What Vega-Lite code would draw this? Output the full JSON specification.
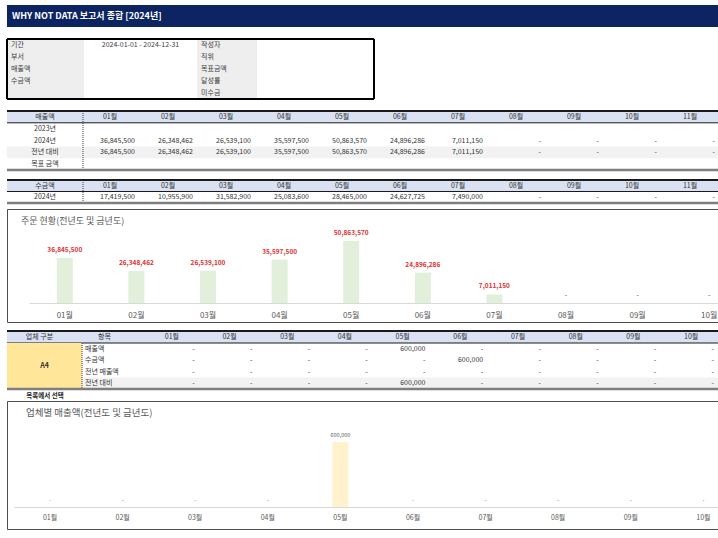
{
  "$schema": "https://vega.github.io/schema/vega-lite/v6.json",
  "background": "white",
  "padding": {"left": 5, "top": 5, "right": 0, "bottom": 0},
  "bounds": "flush",
  "spacing": 0,
  "config": {"font": "Noto Sans CJK KR", "view": {"stroke": null}, "text": {"fontSize": 7, "color": "#333333"}},
  "vconcat": [
    {
      "width": 713, "height": 22,
      "view": {"fill": "#0c2461", "stroke": null},
      "data": {"values": [{"t": "WHY NOT DATA 보고서 종합 [2024년]"}]},
      "mark": {"type": "text", "align": "left", "dx": 5, "color": "white", "fontSize": 9, "fontWeight": "bold"},
      "encoding": {
        "text": {"field": "t"},
        "x": {"datum": "c", "type": "nominal", "bandPosition": 0, "scale": {"type": "band", "domain": ["c"], "paddingInner": 0, "paddingOuter": 0}, "axis": null},
        "y": {"datum": "c", "type": "nominal", "scale": {"type": "band", "domain": ["c"], "paddingInner": 0, "paddingOuter": 0}, "axis": null}
      }
    },
    {"width": 10, "height": 12, "data": {"values": [{}]}, "mark": "text", "encoding": {"text": {"value": ""}}},
    {
      "width": 367, "height": 60,
      "resolve": {"scale": {"x": "independent"}},
      "layer": [
        {"data": {"values": [{"c": "L"}]}, "mark": {"type": "rect", "color": "#eeeeee"},
         "encoding": {"x": {"field": "c", "type": "nominal", "scale": {"type": "band", "domain": ["L"], "range": [0, 77], "paddingInner": 0, "paddingOuter": 0}, "axis": null}}},
        {"data": {"values": [{"c": "R"}]}, "mark": {"type": "rect", "color": "#eeeeee"},
         "encoding": {"x": {"field": "c", "type": "nominal", "scale": {"type": "band", "domain": ["R"], "range": [190, 250], "paddingInner": 0, "paddingOuter": 0}, "axis": null}}},
        {"data": {"values": [{"r": 1, "t": "기간"}, {"r": 2, "t": "부서"}, {"r": 3, "t": "매출액"}, {"r": 4, "t": "수금액"}]},
         "mark": {"type": "text", "align": "left", "dx": 4, "fontSize": 7, "color": "#404040"},
         "encoding": {
           "text": {"field": "t"},
           "x": {"datum": "L", "type": "nominal", "bandPosition": 0, "scale": {"type": "band", "domain": ["L"], "range": [0, 77], "paddingInner": 0, "paddingOuter": 0}, "axis": null},
           "y": {"field": "r", "type": "ordinal", "scale": {"type": "band", "domain": [1, 2, 3, 4, 5], "paddingInner": 0, "paddingOuter": 0}, "axis": null}}},
        {"data": {"values": [{"r": 1, "t": "작성자"}, {"r": 2, "t": "직위"}, {"r": 3, "t": "목표금액"}, {"r": 4, "t": "달성률"}, {"r": 5, "t": "미수금"}]},
         "mark": {"type": "text", "align": "left", "dx": 4, "fontSize": 7, "color": "#404040"},
         "encoding": {
           "text": {"field": "t"},
           "x": {"datum": "R", "type": "nominal", "bandPosition": 0, "scale": {"type": "band", "domain": ["R"], "range": [190, 250], "paddingInner": 0, "paddingOuter": 0}, "axis": null},
           "y": {"field": "r", "type": "ordinal", "scale": {"type": "band", "domain": [1, 2, 3, 4, 5], "paddingInner": 0, "paddingOuter": 0}, "axis": null}}},
        {"data": {"values": [{"r": 1, "t": "2024-01-01 - 2024-12-31"}]},
         "mark": {"type": "text", "fontSize": 7, "color": "#404040"},
         "encoding": {
           "text": {"field": "t"},
           "x": {"datum": "V", "type": "nominal", "scale": {"type": "band", "domain": ["V"], "range": [77, 190], "paddingInner": 0, "paddingOuter": 0}, "axis": null},
           "y": {"field": "r", "type": "ordinal", "scale": {"type": "band", "domain": [1, 2, 3, 4, 5], "paddingInner": 0, "paddingOuter": 0}, "axis": null}}},
        {"data": {"values": [{"r": 1}]}, "mark": {"type": "rule", "color": "#000000", "strokeWidth": 2},
         "encoding": {"y": {"field": "r", "type": "ordinal", "bandPosition": 0, "scale": {"type": "band", "domain": [1, 2, 3, 4, 5], "paddingInner": 0, "paddingOuter": 0}, "axis": null}}},
        {"data": {"values": [{"r": 5}]}, "mark": {"type": "rule", "color": "#000000", "strokeWidth": 2},
         "encoding": {"y": {"field": "r", "type": "ordinal", "bandPosition": 1, "scale": {"type": "band", "domain": [1, 2, 3, 4, 5], "paddingInner": 0, "paddingOuter": 0}, "axis": null}}},
        {"data": {"values": [{"c": "L"}]}, "mark": {"type": "rule", "color": "#000000", "strokeWidth": 2},
         "encoding": {"x": {"field": "c", "type": "nominal", "bandPosition": 0, "scale": {"type": "band", "domain": ["L"], "range": [0, 77], "paddingInner": 0, "paddingOuter": 0}, "axis": null}}},
        {"data": {"values": [{"c": "W"}]}, "mark": {"type": "rule", "color": "#000000", "strokeWidth": 2},
         "encoding": {"x": {"field": "c", "type": "nominal", "bandPosition": 1, "scale": {"type": "band", "domain": ["W"], "range": [250, 367], "paddingInner": 0, "paddingOuter": 0}, "axis": null}}}
      ]
    },
    {"width": 10, "height": 12, "data": {"values": [{}]}, "mark": "text", "encoding": {"text": {"value": ""}}},
    {
      "width": 713, "height": 59,
      "resolve": {"scale": {"x": "independent"}},
      "layer": [
        {"data": {"values": [{"r": "h"}, {"r": "c"}]}, "mark": {"type": "rect"},
         "encoding": {
           "y": {"field": "r", "type": "nominal", "scale": {"type": "band", "domain": ["h", "a", "b", "c", "d"], "paddingInner": 0, "paddingOuter": 0}, "axis": null},
           "color": {"condition": {"test": "datum.r === 'h'", "value": "#d9e1f2"}, "value": "#f2f2f2"}}},
        {"data": {"values": [{"m": "01월"}]}, "mark": {"type": "rule", "color": "#404040", "strokeWidth": 1, "strokeDash": [1, 1]},
         "encoding": {"x": {"field": "m", "type": "nominal", "bandPosition": 0, "scale": {"type": "band", "domain": ["01월", "02월", "03월", "04월", "05월", "06월", "07월", "08월", "09월", "10월", "11월"], "range": [76, 714], "paddingInner": 0, "paddingOuter": 0}, "axis": null}}},
        {"data": {"values": [{"r": "h", "t": "매출액"}, {"r": "a", "t": "2023년"}, {"r": "b", "t": "2024년"}, {"r": "c", "t": "전년 대비"}, {"r": "d", "t": "목표 금액"}]},
         "mark": {"type": "text", "fontSize": 7},
         "encoding": {
           "text": {"field": "t"},
           "x": {"datum": "L", "type": "nominal", "scale": {"type": "band", "domain": ["L"], "range": [0, 76], "paddingInner": 0, "paddingOuter": 0}, "axis": null},
           "y": {"field": "r", "type": "nominal", "scale": {"type": "band", "domain": ["h", "a", "b", "c", "d"], "paddingInner": 0, "paddingOuter": 0}, "axis": null}}},
        {"data": {"values": [{"m": "01월"}, {"m": "02월"}, {"m": "03월"}, {"m": "04월"}, {"m": "05월"}, {"m": "06월"}, {"m": "07월"}, {"m": "08월"}, {"m": "09월"}, {"m": "10월"}, {"m": "11월"}]},
         "mark": {"type": "text", "fontSize": 7, "dx": -2},
         "encoding": {
           "text": {"field": "m"},
           "x": {"field": "m", "type": "nominal", "scale": {"type": "band", "domain": ["01월", "02월", "03월", "04월", "05월", "06월", "07월", "08월", "09월", "10월", "11월"], "range": [76, 714], "paddingInner": 0, "paddingOuter": 0}, "axis": null},
           "y": {"datum": "h", "type": "nominal", "scale": {"type": "band", "domain": ["h", "a", "b", "c", "d"], "paddingInner": 0, "paddingOuter": 0}, "axis": null}}},
        {"data": {"values": [
          {"r": "b", "m": "01월", "v": 36845500}, {"r": "b", "m": "02월", "v": 26348462}, {"r": "b", "m": "03월", "v": 26539100}, {"r": "b", "m": "04월", "v": 35597500}, {"r": "b", "m": "05월", "v": 50863570}, {"r": "b", "m": "06월", "v": 24896286}, {"r": "b", "m": "07월", "v": 7011150}, {"r": "b", "m": "08월", "v": 0}, {"r": "b", "m": "09월", "v": 0}, {"r": "b", "m": "10월", "v": 0}, {"r": "b", "m": "11월", "v": 0},
          {"r": "c", "m": "01월", "v": 36845500}, {"r": "c", "m": "02월", "v": 26348462}, {"r": "c", "m": "03월", "v": 26539100}, {"r": "c", "m": "04월", "v": 35597500}, {"r": "c", "m": "05월", "v": 50863570}, {"r": "c", "m": "06월", "v": 24896286}, {"r": "c", "m": "07월", "v": 7011150}, {"r": "c", "m": "08월", "v": 0}, {"r": "c", "m": "09월", "v": 0}, {"r": "c", "m": "10월", "v": 0}, {"r": "c", "m": "11월", "v": 0}]},
         "mark": {"type": "text", "fontSize": 7, "align": "right", "dx": -6},
         "encoding": {
           "text": {"field": "v", "type": "quantitative", "format": ",", "condition": {"test": "datum.v === 0", "value": "-"}},
           "x": {"field": "m", "type": "nominal", "bandPosition": 1, "scale": {"type": "band", "domain": ["01월", "02월", "03월", "04월", "05월", "06월", "07월", "08월", "09월", "10월", "11월"], "range": [76, 714], "paddingInner": 0, "paddingOuter": 0}, "axis": null},
           "y": {"field": "r", "type": "nominal", "scale": {"type": "band", "domain": ["h", "a", "b", "c", "d"], "paddingInner": 0, "paddingOuter": 0}, "axis": null}}},
        {"data": {"values": [{"r": "h"}]}, "mark": {"type": "rule", "color": "#1a1a1a", "strokeWidth": 2},
         "encoding": {"y": {"field": "r", "type": "nominal", "bandPosition": 0, "scale": {"type": "band", "domain": ["h", "a", "b", "c", "d"], "paddingInner": 0, "paddingOuter": 0}, "axis": null}}},
        {"data": {"values": [{"r": "a"}]}, "mark": {"type": "rule", "color": "#1a1a1a", "strokeWidth": 1},
         "encoding": {"y": {"field": "r", "type": "nominal", "bandPosition": 0, "scale": {"type": "band", "domain": ["h", "a", "b", "c", "d"], "paddingInner": 0, "paddingOuter": 0}, "axis": null}}},
        {"data": {"values": [{"r": "d"}]}, "mark": {"type": "rule", "color": "#7f7f7f", "strokeWidth": 2.5},
         "encoding": {"y": {"field": "r", "type": "nominal", "bandPosition": 1, "scale": {"type": "band", "domain": ["h", "a", "b", "c", "d"], "paddingInner": 0, "paddingOuter": 0}, "axis": null}}}
      ]
    },
    {"width": 10, "height": 10, "data": {"values": [{}]}, "mark": "text", "encoding": {"text": {"value": ""}}},
    {
      "width": 713, "height": 23,
      "resolve": {"scale": {"x": "independent"}},
      "layer": [
        {"data": {"values": [{"r": "h"}]}, "mark": {"type": "rect", "color": "#d9e1f2"},
         "encoding": {"y": {"field": "r", "type": "nominal", "scale": {"type": "band", "domain": ["h", "b"], "paddingInner": 0, "paddingOuter": 0}, "axis": null}}},
        {"data": {"values": [{"m": "01월"}]}, "mark": {"type": "rule", "color": "#404040", "strokeWidth": 1, "strokeDash": [1, 1]},
         "encoding": {"x": {"field": "m", "type": "nominal", "bandPosition": 0, "scale": {"type": "band", "domain": ["01월", "02월", "03월", "04월", "05월", "06월", "07월", "08월", "09월", "10월", "11월"], "range": [76, 714], "paddingInner": 0, "paddingOuter": 0}, "axis": null}}},
        {"data": {"values": [{"r": "h", "t": "수금액"}, {"r": "b", "t": "2024년"}]},
         "mark": {"type": "text", "fontSize": 7},
         "encoding": {
           "text": {"field": "t"},
           "x": {"datum": "L", "type": "nominal", "scale": {"type": "band", "domain": ["L"], "range": [0, 76], "paddingInner": 0, "paddingOuter": 0}, "axis": null},
           "y": {"field": "r", "type": "nominal", "scale": {"type": "band", "domain": ["h", "b"], "paddingInner": 0, "paddingOuter": 0}, "axis": null}}},
        {"data": {"values": [{"m": "01월"}, {"m": "02월"}, {"m": "03월"}, {"m": "04월"}, {"m": "05월"}, {"m": "06월"}, {"m": "07월"}, {"m": "08월"}, {"m": "09월"}, {"m": "10월"}, {"m": "11월"}]},
         "mark": {"type": "text", "fontSize": 7, "dx": -2},
         "encoding": {
           "text": {"field": "m"},
           "x": {"field": "m", "type": "nominal", "scale": {"type": "band", "domain": ["01월", "02월", "03월", "04월", "05월", "06월", "07월", "08월", "09월", "10월", "11월"], "range": [76, 714], "paddingInner": 0, "paddingOuter": 0}, "axis": null},
           "y": {"datum": "h", "type": "nominal", "scale": {"type": "band", "domain": ["h", "b"], "paddingInner": 0, "paddingOuter": 0}, "axis": null}}},
        {"data": {"values": [
          {"r": "b", "m": "01월", "v": 17419500}, {"r": "b", "m": "02월", "v": 10955900}, {"r": "b", "m": "03월", "v": 31582900}, {"r": "b", "m": "04월", "v": 25083600}, {"r": "b", "m": "05월", "v": 28465000}, {"r": "b", "m": "06월", "v": 24627725}, {"r": "b", "m": "07월", "v": 7490000}, {"r": "b", "m": "08월", "v": 0}, {"r": "b", "m": "09월", "v": 0}, {"r": "b", "m": "10월", "v": 0}, {"r": "b", "m": "11월", "v": 0}]},
         "mark": {"type": "text", "fontSize": 7, "align": "right", "dx": -6},
         "encoding": {
           "text": {"field": "v", "type": "quantitative", "format": ",", "condition": {"test": "datum.v === 0", "value": "-"}},
           "x": {"field": "m", "type": "nominal", "bandPosition": 1, "scale": {"type": "band", "domain": ["01월", "02월", "03월", "04월", "05월", "06월", "07월", "08월", "09월", "10월", "11월"], "range": [76, 714], "paddingInner": 0, "paddingOuter": 0}, "axis": null},
           "y": {"field": "r", "type": "nominal", "scale": {"type": "band", "domain": ["h", "b"], "paddingInner": 0, "paddingOuter": 0}, "axis": null}}},
        {"data": {"values": [{"r": "h"}]}, "mark": {"type": "rule", "color": "#1a1a1a", "strokeWidth": 2},
         "encoding": {"y": {"field": "r", "type": "nominal", "bandPosition": 0, "scale": {"type": "band", "domain": ["h", "b"], "paddingInner": 0, "paddingOuter": 0}, "axis": null}}},
        {"data": {"values": [{"r": "b"}]}, "mark": {"type": "rule", "color": "#1a1a1a", "strokeWidth": 1},
         "encoding": {"y": {"field": "r", "type": "nominal", "bandPosition": 0, "scale": {"type": "band", "domain": ["h", "b"], "paddingInner": 0, "paddingOuter": 0}, "axis": null}}},
        {"data": {"values": [{"r": "b"}]}, "mark": {"type": "rule", "color": "#7f7f7f", "strokeWidth": 2.5},
         "encoding": {"y": {"field": "r", "type": "nominal", "bandPosition": 1, "scale": {"type": "band", "domain": ["h", "b"], "paddingInner": 0, "paddingOuter": 0}, "axis": null}}}
      ]
    },
    {"width": 10, "height": 6, "data": {"values": [{}]}, "mark": "text", "encoding": {"text": {"value": ""}}},
    {
      "width": 717, "height": 113,
      "view": {"stroke": "#4d4d4d", "strokeWidth": 1},
      "title": {"text": "주문 현황(전년도 및 금년도)", "anchor": "start", "frame": "group", "orient": "top", "offset": -17, "dx": 14, "fontSize": 9, "fontWeight": "normal", "color": "#595959"},
      "data": {"values": [
        {"m": "01월", "v": 36845500}, {"m": "02월", "v": 26348462}, {"m": "03월", "v": 26539100}, {"m": "04월", "v": 35597500}, {"m": "05월", "v": 50863570},
        {"m": "06월", "v": 24896286}, {"m": "07월", "v": 7011150}, {"m": "08월", "v": 0}, {"m": "09월", "v": 0}, {"m": "10월", "v": 0}]},
      "encoding": {
        "x": {"field": "m", "type": "ordinal", "scale": {"type": "band", "domain": ["01월", "02월", "03월", "04월", "05월", "06월", "07월", "08월", "09월", "10월"], "range": [22, 738], "paddingInner": 0, "paddingOuter": 0},
              "axis": {"orient": "bottom", "offset": -19, "domainColor": "#d9d9d9", "domainWidth": 1, "ticks": false, "labelPadding": 8, "labelFontSize": 8, "labelColor": "#595959", "labelAngle": 0, "title": null}},
        "y": {"field": "v", "type": "quantitative", "scale": {"domain": [0, 60000000], "range": [94, 20.8], "nice": false}, "axis": null}
      },
      "layer": [
        {"mark": {"type": "bar", "width": 16, "color": "#e2efda"}},
        {"mark": {"type": "text", "dy": -8, "fontSize": 6.5, "fontWeight": "bold"},
         "encoding": {
           "text": {"field": "v", "type": "quantitative", "format": ",", "condition": {"test": "datum.v === 0", "value": "-"}},
           "color": {"condition": {"test": "datum.v === 0", "value": "#7f7f7f"}, "value": "#e0302f"}}}
      ]
    },
    {"width": 10, "height": 9, "data": {"values": [{}]}, "mark": "text", "encoding": {"text": {"value": ""}}},
    {
      "width": 713, "height": 12,
      "view": {"fill": "#d9e1f2", "stroke": null},
      "resolve": {"scale": {"x": "independent"}},
      "layer": [
        {"data": {"values": [{"c": "G", "t": "업체 구분"}, {"c": "I", "t": "항목"}]},
         "mark": {"type": "text", "fontSize": 7},
         "encoding": {
           "text": {"field": "t"},
           "x": {"field": "c", "type": "nominal", "scale": {"type": "band", "domain": ["G", "I"], "range": [0, 130], "paddingInner": 0, "paddingOuter": 0}, "axis": null},
           "y": {"datum": "h", "type": "nominal", "scale": {"type": "band", "domain": ["h"], "paddingInner": 0, "paddingOuter": 0}, "axis": null}}},
        {"data": {"values": [{"m": "01월"}, {"m": "02월"}, {"m": "03월"}, {"m": "04월"}, {"m": "05월"}, {"m": "06월"}, {"m": "07월"}, {"m": "08월"}, {"m": "09월"}, {"m": "10월"}]},
         "mark": {"type": "text", "fontSize": 7},
         "encoding": {
           "text": {"field": "m"},
           "x": {"field": "m", "type": "nominal", "scale": {"type": "band", "domain": ["01월", "02월", "03월", "04월", "05월", "06월", "07월", "08월", "09월", "10월"], "range": [136, 713], "paddingInner": 0, "paddingOuter": 0}, "axis": null},
           "y": {"datum": "h", "type": "nominal", "scale": {"type": "band", "domain": ["h"], "paddingInner": 0, "paddingOuter": 0}, "axis": null}}},
        {"data": {"values": [{"r": "h"}]}, "mark": {"type": "rule", "color": "#1a1a1a", "strokeWidth": 2},
         "encoding": {"y": {"field": "r", "type": "nominal", "bandPosition": 0, "scale": {"type": "band", "domain": ["h"], "paddingInner": 0, "paddingOuter": 0}, "axis": null}}},
        {"data": {"values": [{"r": "h"}]}, "mark": {"type": "rule", "color": "#1a1a1a", "strokeWidth": 1},
         "encoding": {"y": {"field": "r", "type": "nominal", "bandPosition": 1, "scale": {"type": "band", "domain": ["h"], "paddingInner": 0, "paddingOuter": 0}, "axis": null}}}
      ]
    },
    {
      "width": 713, "height": 47,
      "resolve": {"scale": {"x": "independent"}},
      "layer": [
        {"data": {"values": [{"r": "d"}]}, "mark": {"type": "rect", "color": "#f2f2f2"},
         "encoding": {"y": {"field": "r", "type": "nominal", "scale": {"type": "band", "domain": ["a", "b", "c", "d"], "range": [0, 46], "paddingInner": 0, "paddingOuter": 0}, "axis": null}}},
        {"data": {"values": [{"c": "G"}]}, "mark": {"type": "rect", "color": "#ffe699"},
         "encoding": {"x": {"field": "c", "type": "nominal", "scale": {"type": "band", "domain": ["G", "I"], "range": [0, 150], "paddingInner": 0, "paddingOuter": 0}, "axis": null}}},
        {"data": {"values": [{"c": "I"}]}, "mark": {"type": "rule", "color": "#404040", "strokeWidth": 1, "strokeDash": [1, 1]},
         "encoding": {"x": {"field": "c", "type": "nominal", "bandPosition": 0, "scale": {"type": "band", "domain": ["G", "I"], "range": [0, 150], "paddingInner": 0, "paddingOuter": 0}, "axis": null}}},
        {"data": {"values": [{"c": "G", "t": "A4"}]}, "mark": {"type": "text", "fontSize": 7, "fontWeight": "bold"},
         "encoding": {
           "text": {"field": "t"},
           "x": {"field": "c", "type": "nominal", "scale": {"type": "band", "domain": ["G", "I"], "range": [0, 150], "paddingInner": 0, "paddingOuter": 0}, "axis": null},
           "y": {"datum": "b", "type": "nominal", "bandPosition": 1, "scale": {"type": "band", "domain": ["a", "b", "c", "d"], "range": [0, 46], "paddingInner": 0, "paddingOuter": 0}, "axis": null}}},
        {"data": {"values": [{"r": "a", "t": "매출액"}, {"r": "b", "t": "수금액"}, {"r": "c", "t": "전년 매출액"}, {"r": "d", "t": "전년 대비"}]},
         "mark": {"type": "text", "fontSize": 7, "align": "left", "dx": 3},
         "encoding": {
           "text": {"field": "t"},
           "x": {"datum": "I", "type": "nominal", "bandPosition": 0, "scale": {"type": "band", "domain": ["G", "I"], "range": [0, 150], "paddingInner": 0, "paddingOuter": 0}, "axis": null},
           "y": {"field": "r", "type": "nominal", "scale": {"type": "band", "domain": ["a", "b", "c", "d"], "range": [0, 46], "paddingInner": 0, "paddingOuter": 0}, "axis": null}}},
        {"data": {"values": [
          {"r": "a", "m": "01월", "v": 0}, {"r": "a", "m": "02월", "v": 0}, {"r": "a", "m": "03월", "v": 0}, {"r": "a", "m": "04월", "v": 0}, {"r": "a", "m": "05월", "v": 600000}, {"r": "a", "m": "06월", "v": 0}, {"r": "a", "m": "07월", "v": 0}, {"r": "a", "m": "08월", "v": 0}, {"r": "a", "m": "09월", "v": 0}, {"r": "a", "m": "10월", "v": 0},
          {"r": "b", "m": "01월", "v": 0}, {"r": "b", "m": "02월", "v": 0}, {"r": "b", "m": "03월", "v": 0}, {"r": "b", "m": "04월", "v": 0}, {"r": "b", "m": "05월", "v": 0}, {"r": "b", "m": "06월", "v": 600000}, {"r": "b", "m": "07월", "v": 0}, {"r": "b", "m": "08월", "v": 0}, {"r": "b", "m": "09월", "v": 0}, {"r": "b", "m": "10월", "v": 0},
          {"r": "c", "m": "01월", "v": 0}, {"r": "c", "m": "02월", "v": 0}, {"r": "c", "m": "03월", "v": 0}, {"r": "c", "m": "04월", "v": 0}, {"r": "c", "m": "05월", "v": 0}, {"r": "c", "m": "06월", "v": 0}, {"r": "c", "m": "07월", "v": 0}, {"r": "c", "m": "08월", "v": 0}, {"r": "c", "m": "09월", "v": 0}, {"r": "c", "m": "10월", "v": 0},
          {"r": "d", "m": "01월", "v": 0}, {"r": "d", "m": "02월", "v": 0}, {"r": "d", "m": "03월", "v": 0}, {"r": "d", "m": "04월", "v": 0}, {"r": "d", "m": "05월", "v": 600000}, {"r": "d", "m": "06월", "v": 0}, {"r": "d", "m": "07월", "v": 0}, {"r": "d", "m": "08월", "v": 0}, {"r": "d", "m": "09월", "v": 0}, {"r": "d", "m": "10월", "v": 0}]},
         "mark": {"type": "text", "fontSize": 7, "align": "right", "dx": -6},
         "encoding": {
           "text": {"field": "v", "type": "quantitative", "format": ",", "condition": {"test": "datum.v === 0", "value": "-"}},
           "x": {"field": "m", "type": "nominal", "bandPosition": 1, "scale": {"type": "band", "domain": ["01월", "02월", "03월", "04월", "05월", "06월", "07월", "08월", "09월", "10월"], "range": [136, 713], "paddingInner": 0, "paddingOuter": 0}, "axis": null},
           "y": {"field": "r", "type": "nominal", "scale": {"type": "band", "domain": ["a", "b", "c", "d"], "range": [0, 46], "paddingInner": 0, "paddingOuter": 0}, "axis": null}}},
        {"data": {"values": [{"r": "d"}]}, "mark": {"type": "rule", "color": "#7f7f7f", "strokeWidth": 2.5},
         "encoding": {"y": {"field": "r", "type": "nominal", "bandPosition": 1, "scale": {"type": "band", "domain": ["a", "b", "c", "d"], "range": [0, 46], "paddingInner": 0, "paddingOuter": 0}, "axis": null}}}
      ]
    },
    {
      "width": 713, "height": 11,
      "data": {"values": [{"t": "목록에서 선택"}]},
      "mark": {"type": "text", "fontSize": 6.5, "fontWeight": "bold", "color": "#262626"},
      "encoding": {
        "text": {"field": "t"},
        "x": {"datum": "c", "type": "nominal", "scale": {"type": "band", "domain": ["c"], "range": [0, 76], "paddingInner": 0, "paddingOuter": 0}, "axis": null},
        "y": {"datum": "c", "type": "nominal", "scale": {"type": "band", "domain": ["c"], "paddingInner": 0, "paddingOuter": 0}, "axis": null}
      }
    },
    {
      "width": 717, "height": 128,
      "view": {"stroke": "#4d4d4d", "strokeWidth": 1},
      "title": {"text": "업체별 매출액(전년도 및 금년도)", "anchor": "start", "frame": "group", "orient": "top", "offset": -16, "dx": 19, "fontSize": 9.5, "fontWeight": "normal", "color": "#595959"},
      "data": {"values": [
        {"m": "01월", "v": 0}, {"m": "02월", "v": 0}, {"m": "03월", "v": 0}, {"m": "04월", "v": 0}, {"m": "05월", "v": 600000},
        {"m": "06월", "v": 0}, {"m": "07월", "v": 0}, {"m": "08월", "v": 0}, {"m": "09월", "v": 0}, {"m": "10월", "v": 0}]},
      "encoding": {
        "x": {"field": "m", "type": "ordinal", "scale": {"type": "band", "domain": ["01월", "02월", "03월", "04월", "05월", "06월", "07월", "08월", "09월", "10월"], "range": [6.7, 732.7], "paddingInner": 0, "paddingOuter": 0},
              "axis": {"orient": "bottom", "offset": -22, "domainColor": "#d9d9d9", "domainWidth": 1, "ticks": false, "labelPadding": 6, "labelFontSize": 7, "labelColor": "#595959", "labelAngle": 0, "title": null}},
        "y": {"field": "v", "type": "quantitative", "scale": {"domain": [0, 700000], "range": [106, 30.2], "nice": false}, "axis": null}
      },
      "layer": [
        {"mark": {"type": "bar", "width": 16, "color": "#fff2cc"}},
        {"mark": {"type": "text", "dy": -7, "fontSize": 5.5, "color": "#595959"},
         "encoding": {
           "text": {"field": "v", "type": "quantitative", "format": ",", "condition": {"test": "datum.v === 0", "value": "-"}}}}
      ]
    }
  ]
}
